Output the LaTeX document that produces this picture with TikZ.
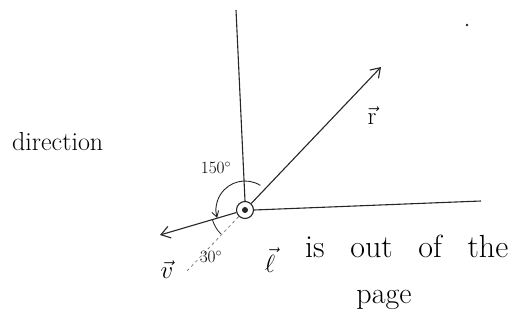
\documentclass[tikz,border=0pt]{standalone}
\usetikzlibrary{arrows.meta,calc}
\begin{document}
\begin{tikzpicture}[x=1pt,y=-1pt,
  ink/.style={line width=1.1pt,black!85},
  vecarrow/.style={ink,-{Straight Barb[length=9pt,width=12pt]}},
  lbl/.style={font=\fontsize{26}{30}\selectfont,inner sep=0pt},
  big/.style={font=\fontsize{32}{36}\selectfont,inner sep=0pt},
  small/.style={font=\fontsize{17}{20}\selectfont,inner sep=0pt}]
\useasboundingbox (0,0) rectangle (529,321);
% origin
\node[ink,draw,circle,minimum size=17pt,inner sep=0pt] (O) at (245,210) {};
\fill[black!85] (O.center) circle (3pt);
\coordinate (top) at (236,10);
\coordinate (right) at (481,201);
\coordinate (rend) at (381,67);
\coordinate (vend) at (160,235);
\coordinate (dend) at (186,272);
% axes
\draw[ink] (top) -- (O.north);
\draw[ink] (O.east) -- (right);
% vectors
\draw[vecarrow] (O) -- (rend);
\draw[vecarrow] (O) -- (vend);
\draw[ink,dashed,line width=0.6pt,black!60] (O) -- (dend);
% angle arcs
\draw[ink,line width=0.9pt,-{Straight Barb[length=6pt,width=7pt]}] ($(O.center)+(-58:29)$) arc[start angle=-58,end angle=-196,radius=29];
\draw[ink,line width=0.8pt] ($(O.center)+(-196:34)$) arc[start angle=-196,end angle=-225,radius=34];
% labels
\node[lbl] (rl) at (372,116) {$\vec{\mathrm{r}}$};
\node[lbl] (vl) at (167,270) {$\vec{v}$};
\node[lbl] (ll) at (270,260) {$\vec{\ell}$};
\node[small] (a150) at (216,168) {$150^{\circ}$};
\node[small] (a30) at (211,257) {$30^{\circ}$};
\node[lbl,anchor=west] (dir) at (12,142) {direction};
\node[big,anchor=base west] (out) at (305,257) {is\hspace{16pt} out\hspace{16pt} of\hspace{16pt} the};
\node[font=\fontsize{30}{34}\selectfont,inner sep=0pt,anchor=base] (page) at (384,303) {page};
\fill[black!85] (467,25) circle (1.3pt);
\end{tikzpicture}
\end{document}
